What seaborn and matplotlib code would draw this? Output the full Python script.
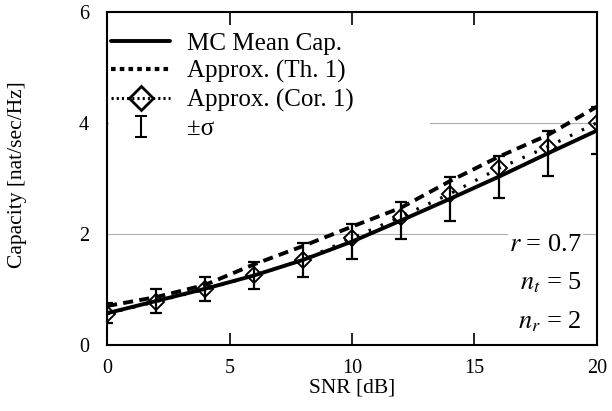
import numpy as np
import pandas as pd
import seaborn as sns
import matplotlib.pyplot as plt
from matplotlib.lines import Line2D
from matplotlib.container import ErrorbarContainer
from matplotlib.legend_handler import HandlerErrorbar

# data
snr = [0, 2, 4, 6, 8, 10, 12, 14, 16, 18, 20]
mc_mean = [0.57, 0.79, 1.01, 1.25, 1.53, 1.86, 2.24, 2.63, 3.03, 3.45, 3.86]
approx_th1 = [0.70, 0.86, 1.08, 1.45, 1.78, 2.13, 2.47, 2.95, 3.39, 3.78, 4.29]
approx_cor1 = [0.56, 0.78, 1.00, 1.25, 1.53, 1.92, 2.31, 2.72, 3.18, 3.57, 4.00]
sigma = [0.18, 0.22, 0.22, 0.25, 0.31, 0.32, 0.34, 0.39, 0.38, 0.41, 0.42]

df = pd.DataFrame({'snr': snr, 'mc': mc_mean, 'th1': approx_th1,
                   'cor1': approx_cor1, 'sigma': sigma})

sns.set_theme(style='white')
plt.rcParams['font.family'] = ['Liberation Serif', 'DejaVu Serif']
plt.rcParams['mathtext.fontset'] = 'stix'
plt.rcParams.update({'text.color': 'black', 'axes.labelcolor': 'black',
                     'xtick.color': 'black', 'ytick.color': 'black'})

fig = plt.figure(figsize=(6.12, 4.11), dpi=100)
ax = fig.add_axes([0.175, 0.161, 0.80, 0.81])

for yv in [2, 4]:
    ax.axhline(yv, color='#b0b0b0', lw=0.8, zorder=0)

sns.lineplot(data=df, x='snr', y='th1', ax=ax, color='black', lw=2.8,
             linestyle=(0, (2.6, 1.6)))
sns.lineplot(data=df, x='snr', y='cor1', ax=ax, color='black', lw=2.3,
             linestyle=(0, (0.8, 3.3)), marker='D', markersize=8,
             markerfacecolor='none', markeredgecolor='black', markeredgewidth=1.4)
sns.lineplot(data=df, x='snr', y='mc', ax=ax, color='black', lw=2.8)
ax.errorbar(df['snr'], df['mc'], yerr=df['sigma'], fmt='none', ecolor='black',
            elinewidth=1.6, capsize=4.5, capthick=1.6)

ax.set_xlim(0, 20)
ax.set_ylim(0, 6)
ax.set_xticks([0, 5, 10, 15, 20])
ax.set_yticks([0, 2, 4, 6])
ax.tick_params(axis='x', direction='in', length=9, width=1.2, top=True,
               bottom=True, labelsize=14.5, pad=10)
ax.tick_params(axis='y', direction='in', length=0, labelsize=14.5, pad=13)
for s in ax.spines.values():
    s.set_color('black')
    s.set_linewidth(1.5)

ax.set_xlabel('SNR [dB]', fontsize=15.5)
ax.set_ylabel('Capacity [nat/sec/Hz]', fontsize=15.5)
ax.xaxis.set_label_coords(0.5, -0.1)
ax.yaxis.set_label_coords(-0.163, 0.51)

box = dict(facecolor='white', edgecolor='none', pad=1)
ax.text(0.969, 0.30, r'$r$ = 0.7', transform=ax.transAxes, ha='right',
        va='center', fontsize=19, bbox=box)
ax.text(0.969, 0.186, r'$n_t$ = 5', transform=ax.transAxes, ha='right',
        va='center', fontsize=19, bbox=box)
ax.text(0.969, 0.069, r'$n_r$ = 2', transform=ax.transAxes, ha='right',
        va='center', fontsize=19, bbox=box)

h_mc = Line2D([], [], color='black', lw=2.8)
h_th = Line2D([], [], color='black', lw=3.0, linestyle=(0, (1.1, 1.0)))
h_cor = Line2D([], [], color='black', lw=2.2, linestyle=(0, (0.7, 1.0)),
               marker='D', markersize=12.5, markerfacecolor='none',
               markeredgecolor='black', markeredgewidth=2.0)
h_sig = ax.errorbar([-50], [1], yerr=[1], fmt='none', ecolor='black',
                    elinewidth=1.5, capsize=4.5, capthick=1.5)
leg = ax.legend([h_mc, h_th, h_cor, h_sig],
                ['MC Mean Cap.', 'Approx. (Th. 1)', 'Approx. (Cor. 1)', '±σ'],
                loc='upper left', mode='expand', fontsize=18,
                bbox_to_anchor=(0.003, 0.5, 0.657, 0.446),
                handlelength=2.36, handletextpad=0.68, labelspacing=0.22,
                borderpad=0.1, borderaxespad=0.0, fancybox=False,
                frameon=True, facecolor='white', edgecolor='none', framealpha=1,
                handler_map={ErrorbarContainer: HandlerErrorbar(yerr_size=0.42)})

fig.savefig('out.png', dpi=100)
